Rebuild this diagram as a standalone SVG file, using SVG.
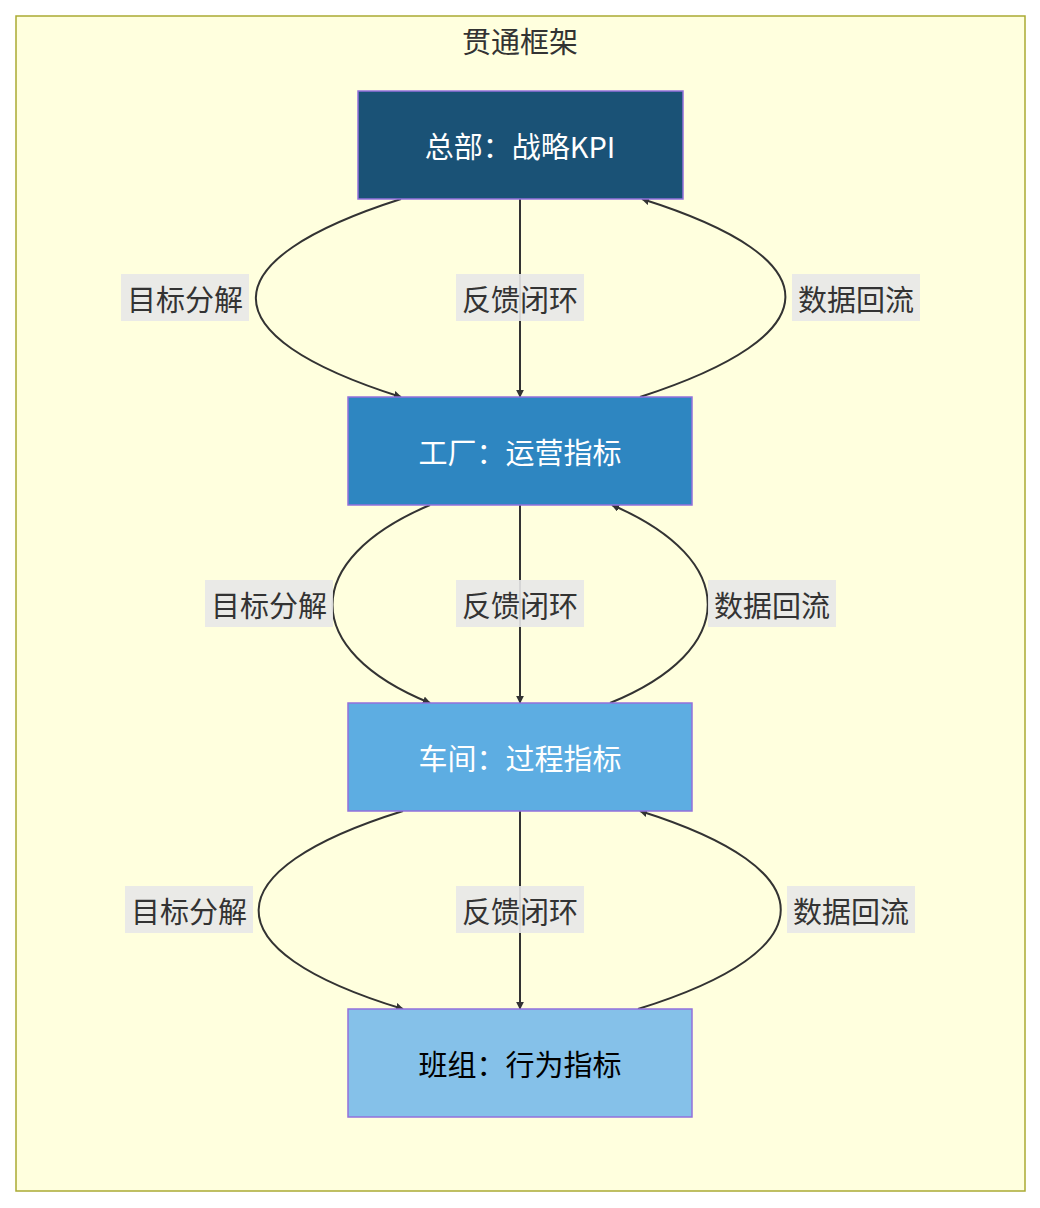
<svg xmlns="http://www.w3.org/2000/svg" width="1040" height="1208" viewBox="0 0 1040 1208">
<style>
text{font-family:"Noto Sans CJK SC","Noto Sans",sans-serif;text-anchor:middle;dominant-baseline:central}
.n{stroke:#9370db;stroke-width:1.5}
.nt{font-size:29px;fill:#fff}
.e{fill:none;stroke:#333;stroke-width:2}
.lb{fill:#e8e8e8;opacity:0.9}
.lt{font-size:29px;fill:#333}
</style>
<defs><marker id="a" viewBox="0 0 10 10" refX="9" refY="5" markerWidth="8" markerHeight="8" orient="auto" markerUnits="userSpaceOnUse"><path d="M0,0L10,5L0,10z" fill="#333"/></marker></defs>
<rect x="16" y="16" width="1009" height="1175" fill="#ffffde" stroke="#aaaa33" stroke-width="1.5"/>
<text x="520" y="40" font-size="29" fill="#333">贯通框架</text>
<g id="edges">
<path class="e" marker-end="url(#a)" d="M401,199 C210,260 205,335 401,397"/>
<path class="e" marker-end="url(#a)" d="M520,199 L520,397"/>
<path class="e" marker-end="url(#a)" d="M640,397 C831,335 836,260 642,199"/>
<path class="e" marker-end="url(#a)" d="M430,505 C300,560 300,650 430,703"/>
<path class="e" marker-end="url(#a)" d="M520,505 L520,703"/>
<path class="e" marker-end="url(#a)" d="M610,703 C740,650 740,560 612,505"/>
<path class="e" marker-end="url(#a)" d="M403,811 C213,870 208,950 403,1009"/>
<path class="e" marker-end="url(#a)" d="M520,811 L520,1009"/>
<path class="e" marker-end="url(#a)" d="M638,1009 C828,950 828,870 640,811"/>
<rect class="lb" x="121" y="274" width="128" height="47"/><text class="lt" x="185" y="298">目标分解</text>
<rect class="lb" x="456" y="274" width="128" height="47"/><text class="lt" x="520" y="298">反馈闭环</text>
<rect class="lb" x="792" y="274" width="128" height="47"/><text class="lt" x="856" y="298">数据回流</text>
<rect class="lb" x="205" y="580" width="128" height="47"/><text class="lt" x="269" y="604">目标分解</text>
<rect class="lb" x="456" y="580" width="128" height="47"/><text class="lt" x="520" y="604">反馈闭环</text>
<rect class="lb" x="708" y="580" width="128" height="47"/><text class="lt" x="772" y="604">数据回流</text>
<rect class="lb" x="125" y="886" width="128" height="47"/><text class="lt" x="189" y="910">目标分解</text>
<rect class="lb" x="456" y="886" width="128" height="47"/><text class="lt" x="520" y="910">反馈闭环</text>
<rect class="lb" x="787" y="886" width="128" height="47"/><text class="lt" x="851" y="910">数据回流</text>
</g>
<g id="hq"><rect class="n" x="358" y="91" width="325" height="108" fill="#1a5276"/><text class="nt" x="520" y="145">总部：战略KPI</text></g>
<g id="factory"><rect class="n" x="348" y="397" width="344" height="108" fill="#2e86c1"/><text class="nt" x="520" y="451">工厂：运营指标</text></g>
<g id="workshop"><rect class="n" x="348" y="703" width="344" height="108" fill="#5dade2"/><text class="nt" x="520" y="757">车间：过程指标</text></g>
<g id="team"><rect class="n" x="348" y="1009" width="344" height="108" fill="#85c1e9"/><text class="nt" x="520" y="1063" fill="#000" style="fill:#000">班组：行为指标</text></g>
</svg>
